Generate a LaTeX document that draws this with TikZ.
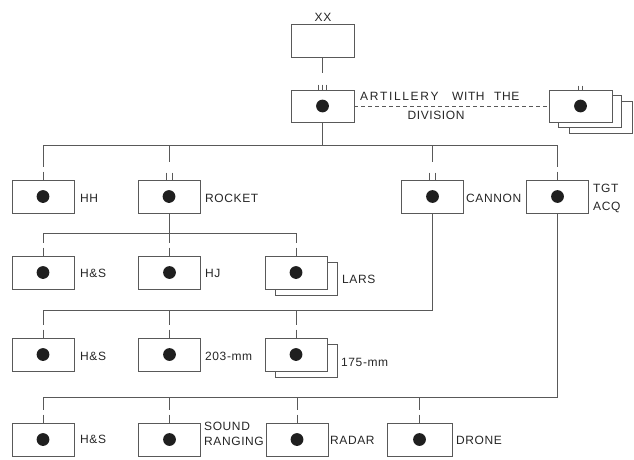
\documentclass[tikz,border=0pt]{standalone}
\usepackage{fontspec}
\setmainfont{Liberation Sans}[LetterSpace=5]
\begin{document}
\begin{tikzpicture}[x=1pt,y=-1pt,
  ln/.style={draw=black!65,line width=0.8pt},
  plainbox/.style={ln,fill=white,minimum width=62pt,minimum height=33pt,inner sep=0pt},
  box/.style={plainbox,path picture={\fill[black!88] (path picture bounding box.center) circle (6.4pt);}},
  lbl/.style={text=black!85,font=\fontsize{12}{13}\selectfont,inner sep=0pt,anchor=west},
  dashline/.style={ln,dash pattern=on 4pt off 3pt},
]
\useasboundingbox (0,0) rectangle (634,460);

% bus levels
\coordinate (b1) at (0,145);
\coordinate (b2) at (0,233);
\coordinate (b3) at (0,310);
\coordinate (b4) at (0,397);

% top
\node[plainbox,minimum width=63pt] (xx) at (322.5,40.5) {};
\node[lbl,anchor=center] (xxl) at (323,17) {XX};
\node[box,minimum width=63pt,minimum height=32pt] (art) at (322.5,106) {};
\node[lbl] (artl1) at (360,96) {\makebox[92pt][l]{\addfontfeature{LetterSpace=14}ARTILLERY}\makebox[42pt][l]{WITH}THE};
\node[lbl,anchor=center] (artl2) at (436,115) {DIVISION};

% stacked group on the right
\node[plainbox,minimum width=63pt,minimum height=32pt] (stk3) at (600.5,117) {};
\node[plainbox,minimum width=63pt,minimum height=32pt] (stk2) at (589.5,111) {};
\node[box,minimum width=63pt,minimum height=32pt] (stk) at (580.5,106) {};

% row 1
\node[box] (hh) at (43,196.5) {};
\node[box] (rocket) at (169,196.5) {};
\node[box] (cannon) at (432.5,196.5) {};
\node[box] (tgt) at (557.5,196.5) {};
\node[lbl] (hhl) at (80,198) {HH};
\node[lbl] (rocketl) at (205,198) {ROCKET};
\node[lbl] (cannonl) at (466,198) {CANNON};
\node[lbl] (tgtl1) at (593,188) {TGT};
\node[lbl] (tgtl2) at (593,207) {ACQ};

% row 2
\node[box] (hs1) at (43,272.5) {};
\node[box] (hj) at (169.5,272.5) {};
\node[plainbox] (larsb) at (306,278.5) {};
\node[box] (lars) at (296,272.5) {};
\node[lbl] (hs1l) at (80,273) {H\&S};
\node[lbl] (hjl) at (205,273) {HJ};
\node[lbl] (larsl) at (342,279) {LARS};

% row 3
\node[box] (hs2) at (43,354.5) {};
\node[box] (m203) at (169.5,354.5) {};
\node[plainbox] (m175b) at (306,360.5) {};
\node[box] (m175) at (296,354.5) {};
\node[lbl] (hs2l) at (80,356) {H\&S};
\node[lbl] (m203l) at (205,356) {203-mm};
\node[lbl] (m175l) at (341,362) {175-mm};

% row 4
\node[box] (hs3) at (43,439.5) {};
\node[box] (sound) at (169.5,439.5) {};
\node[box] (radar) at (297,439.5) {};
\node[box,minimum width=65pt] (drone) at (419.5,439.5) {};
\node[lbl] (hs3l) at (80,439) {H\&S};
\node[lbl] (soundl1) at (204,426) {SOUND};
\node[lbl] (soundl2) at (204,441) {RANGING};
\node[lbl] (radarl) at (330,440) {RADAR};
\node[lbl] (dronel) at (456,440) {DRONE};

% connectors
\coordinate (xxe) at (322.5,73);
\draw[ln] (xx.south) -- (xxe);
\foreach \dx in {-4,0,4}
  \draw[ln] ([xshift=\dx pt,yshift=5pt]art.north) -- ([xshift=\dx pt]art.north);
\draw[dashline] (art.east) -- (stk.west);
\foreach \dx in {-2,2}
  \draw[ln] ([xshift=\dx pt,yshift=4pt]stk.north) -- ([xshift=\dx pt]stk.north);

% drops with echelon ticks
\newcommand\dropone[2]{%
  \draw[ln] (#1.north |- #2) -- ([yshift=13pt]#1.north);
  \draw[ln] ([yshift=8pt]#1.north) -- (#1.north);}
\newcommand\droptwo[2]{%
  \draw[ln] (#1.north |- #2) -- ([yshift=18pt]#1.north);
  \draw[ln] ([xshift=-3pt,yshift=7pt]#1.north) -- ([xshift=-3pt]#1.north);
  \draw[ln] ([xshift=3pt,yshift=7pt]#1.north) -- ([xshift=3pt]#1.north);}

% level 1
\draw[ln] (art.south) -- (art.south |- b1);
\draw[ln] (hh.north |- b1) -- (tgt.north |- b1);
\dropone{hh}{b1}
\droptwo{rocket}{b1}
\droptwo{cannon}{b1}
\dropone{tgt}{b1}

% level 2
\draw[ln] (rocket.south) -- (rocket.south |- b2);
\draw[ln] (hs1.north |- b2) -- (lars.north |- b2);
\dropone{hs1}{b2}
\dropone{hj}{b2}
\dropone{lars}{b2}

% level 3
\draw[ln] (cannon.south) |- (hs2.north |- b3);
\dropone{hs2}{b3}
\dropone{m203}{b3}
\dropone{m175}{b3}

% level 4
\draw[ln] (tgt.south) |- (hs3.north |- b4);
\dropone{hs3}{b4}
\dropone{sound}{b4}
\dropone{radar}{b4}
\dropone{drone}{b4}
\end{tikzpicture}
\end{document}
